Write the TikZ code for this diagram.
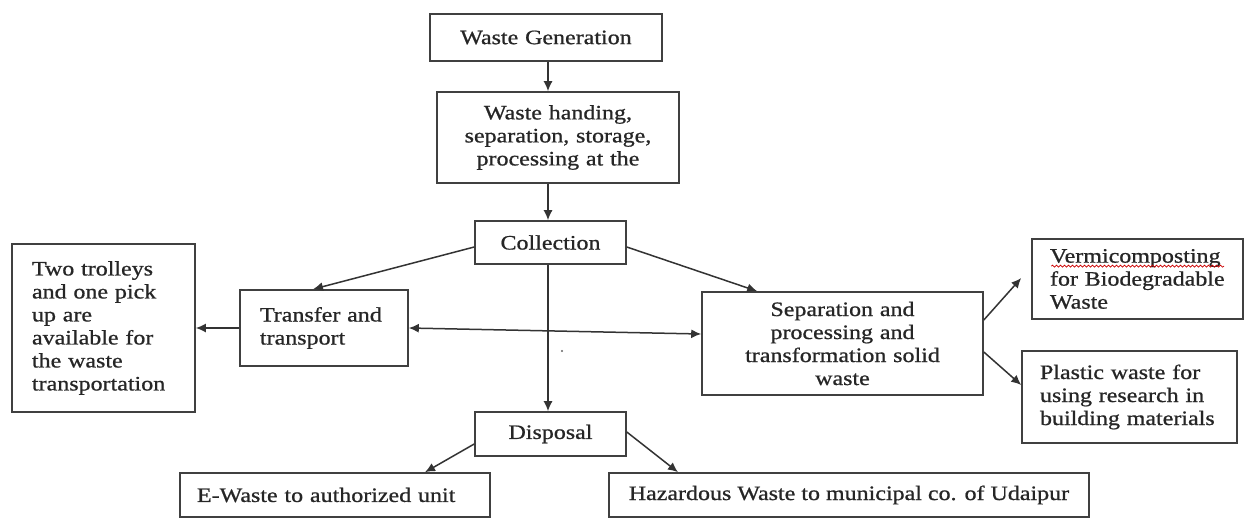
\documentclass[tikz,border=0pt]{standalone}
\usepackage{fontspec}
\setmainfont{Liberation Serif}[FakeStretch=1.17,FakeBold=0.8]
\usetikzlibrary{arrows.meta,calc,decorations.pathmorphing}
\begin{document}
\begin{tikzpicture}[x=1pt,y=-1pt,
  box/.style={draw=black!75,line width=1.6pt,rectangle,inner ysep=0pt,
    font=\fontsize{20.5}{23}\selectfont,text=black!85},
  cbox/.style={box,align=center,inner xsep=6pt},
  lbox/.style={box,align=left},
  arr/.style={draw=black!80,line width=1.5pt,-{Latex[length=10pt,width=9pt]}},
  darr/.style={draw=black!80,line width=1.5pt,{Latex[length=10pt,width=9pt]}-{Latex[length=10pt,width=9pt]}},
  plain/.style={draw=black!80,line width=1.5pt}]
\fill[white] (0,0) rectangle (1247,520);
\useasboundingbox (0,0) rectangle (1247,520);
\coordinate (axis) at (548,0);
\node[cbox,minimum width=232pt,minimum height=47pt,text width=220pt] (gen) at (546,37.5) {Waste Generation};
\node[cbox,minimum width=242pt,minimum height=91pt,text width=230pt] (hand) at (558,137.5) {Waste handing,\\ separation, storage,\\ processing at the};
\node[cbox,minimum width=151pt,minimum height=43pt,text width=139pt] (col) at (550.5,242.5) {Collection};
\node[lbox,minimum width=168pt,minimum height=76pt,inner xsep=20pt,text width=128pt] (trans) at (324,328) {Transfer and\\ transport};
\node[lbox,minimum width=183pt,minimum height=168pt,inner xsep=20pt,text width=143pt] (troll) at (103.5,328) {Two trolleys\\ and one pick\\ up are\\ available for\\ the waste\\ transportation};
\node[cbox,minimum width=281pt,minimum height=103pt,text width=269pt] (sep) at (842.5,343.5) {Separation and\\ processing and\\ transformation solid\\ waste};
\node[lbox,minimum width=211pt,minimum height=80pt,inner xsep=18pt,text width=175pt] (vermi) at (1137.5,279) {Vermicomposting\\ for Biodegradable\\ Waste};
\node[lbox,minimum width=215pt,minimum height=92pt,inner xsep=18pt,text width=179pt] (plast) at (1129.5,397) {Plastic waste for\\ using research in\\ building materials};
\node[cbox,minimum width=151pt,minimum height=44pt,text width=139pt] (disp) at (550.5,434) {Disposal};
\node[lbox,minimum width=310pt,minimum height=44pt,inner xsep=17pt,text width=276pt] (ew) at (335,495) {E-Waste to authorized unit};
\node[box,minimum height=44pt,inner xsep=20pt,anchor=west] (haz) at (608,495) {Hazardous Waste to municipal co. of Udaipur};
% red spell-check underline
\draw[red!80!black,line width=0.7pt,decorate,decoration={snake,amplitude=1pt,segment length=4pt}]
  ($(vermi.north west)+(20,28)$) -- ($(vermi.north west)+(193,28)$);
% connectors
\draw[arr] (gen.south -| axis) -- (hand.north -| axis);
\draw[arr] (hand.south -| axis) -- (col.north -| axis);
\draw[arr] ($(col.west)+(0,4.5)$) -- ($(trans.north)+(-11,0)$);
\draw[arr] ($(col.east)+(0,4.5)$) -- ($(sep.north west)+(56,0)$);
\draw[arr] (col.south -| axis) -- (disp.north -| axis);
\draw[arr] (trans.west) -- (troll.east);
\draw[darr] (trans.east) -- ($(sep.west)+(0,-9.5)$);
\draw[arr] ($(sep.east)+(0,-23.5)$) -- ($(vermi.west)+(-10,-1)$);
\draw[arr] ($(sep.east)+(0,8.5)$) -- ($(plast.west)+(0,-12)$);
\draw[arr] ($(disp.west)+(0,10)$) -- ($(ew.north)+(90,0)$);
\draw[arr] ($(disp.east)+(0,-2)$) -- ($(haz.north west)+(70,0)$);
\fill[black!60] (562,351) circle (1.2pt);
\end{tikzpicture}
\end{document}
